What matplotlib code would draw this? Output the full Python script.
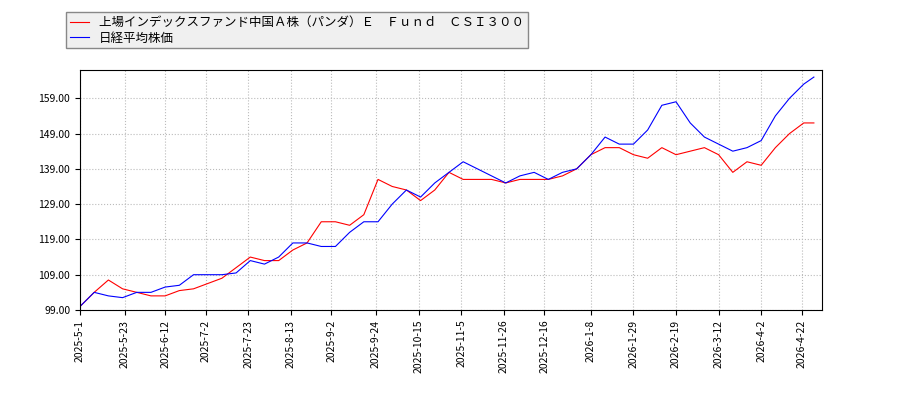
import datetime as dt
import matplotlib
matplotlib.use('Agg')
from matplotlib import pyplot as plt
import matplotlib.dates as mdates
from matplotlib.ticker import FormatStrFormatter

plt.rcParams['font.family'] = ['Noto Sans CJK JP', 'DejaVu Sans']

dates = ['2025-5-1', '2025-5-8', '2025-5-15', '2025-5-22', '2025-5-29', '2025-6-5', '2025-6-12',
         '2025-6-19', '2025-6-26', '2025-7-3', '2025-7-10', '2025-7-17', '2025-7-24', '2025-7-31',
         '2025-8-7', '2025-8-14', '2025-8-21', '2025-8-28', '2025-9-4', '2025-9-11', '2025-9-18',
         '2025-9-25', '2025-10-2', '2025-10-9', '2025-10-16', '2025-10-23', '2025-10-30', '2025-11-6',
         '2025-11-13', '2025-11-20', '2025-11-27', '2025-12-4', '2025-12-11', '2025-12-18',
         '2025-12-25', '2026-1-1', '2026-1-8', '2026-1-15', '2026-1-22', '2026-1-29', '2026-2-5',
         '2026-2-12', '2026-2-19', '2026-2-26', '2026-3-5', '2026-3-12', '2026-3-19', '2026-3-26',
         '2026-4-2', '2026-4-9', '2026-4-16', '2026-4-23', '2026-4-28']
csi = [100, 104, 107.5, 105, 104, 103, 103, 104.5, 105, 106.5, 108, 111, 114, 113, 113, 116, 118,
       124, 124, 123, 126, 136, 134, 133, 130, 133, 138, 136, 136, 136, 135, 136, 136, 136, 137,
       139, 143, 145, 145, 143, 142, 145, 143, 144, 145, 143, 138, 141, 140, 145, 149, 152, 152]
nikkei = [100, 104, 103, 102.5, 104, 104, 105.5, 106, 109, 109, 109, 109.5, 113, 112, 114, 118,
          118, 117, 117, 121, 124, 124, 129, 133, 131, 135, 138, 141, 139, 137, 135, 137, 138, 136,
          138, 139, 143, 148, 146, 146, 150, 157, 158, 152, 148, 146, 144, 145, 147, 154, 159, 163, 165]
tick_dates = ['2025-5-1', '2025-5-23', '2025-6-12', '2025-7-2', '2025-7-23', '2025-8-13', '2025-9-2',
              '2025-9-24', '2025-10-15', '2025-11-5', '2025-11-26', '2025-12-16', '2026-1-8',
              '2026-1-29', '2026-2-19', '2026-3-12', '2026-4-2', '2026-4-22']

parse = lambda s: dt.datetime.strptime(s, '%Y-%m-%d')
x = [parse(d) for d in dates]

fig = plt.figure(figsize=(9, 4), dpi=100)
ax = fig.add_axes([80 / 900, 0.225, 742 / 900, 0.6])
ax.plot(x, csi, color='#ff0000', lw=0.8, label='上場インデックスファンド中国Ａ株（パンダ）Ｅ　Ｆｕｎｄ　ＣＳＩ３００')
ax.plot(x, nikkei, color='#0000ff', lw=0.8, label='日経平均株価')

ax.set_xlim(parse('2025-5-1'), parse('2026-5-2'))
ax.set_ylim(99, 167)
ax.set_yticks(range(99, 160, 10))
ax.yaxis.set_major_formatter(FormatStrFormatter('%.2f'))
ax.set_xticks([parse(d) for d in tick_dates])
ax.set_xticklabels(tick_dates, rotation=90)
ax.tick_params(labelsize=7.5)
ax.grid(True, color='#bbbbbb', linestyle=':', lw=0.8)

fig.legend(loc='upper left', bbox_to_anchor=(60 / 900, 0.985), fontsize=9,
           facecolor='#f0f0f0', edgecolor='#888888', fancybox=False, framealpha=1,
           borderpad=0.3, labelspacing=0.2, handlelength=1.5)

fig.savefig('out.png')
